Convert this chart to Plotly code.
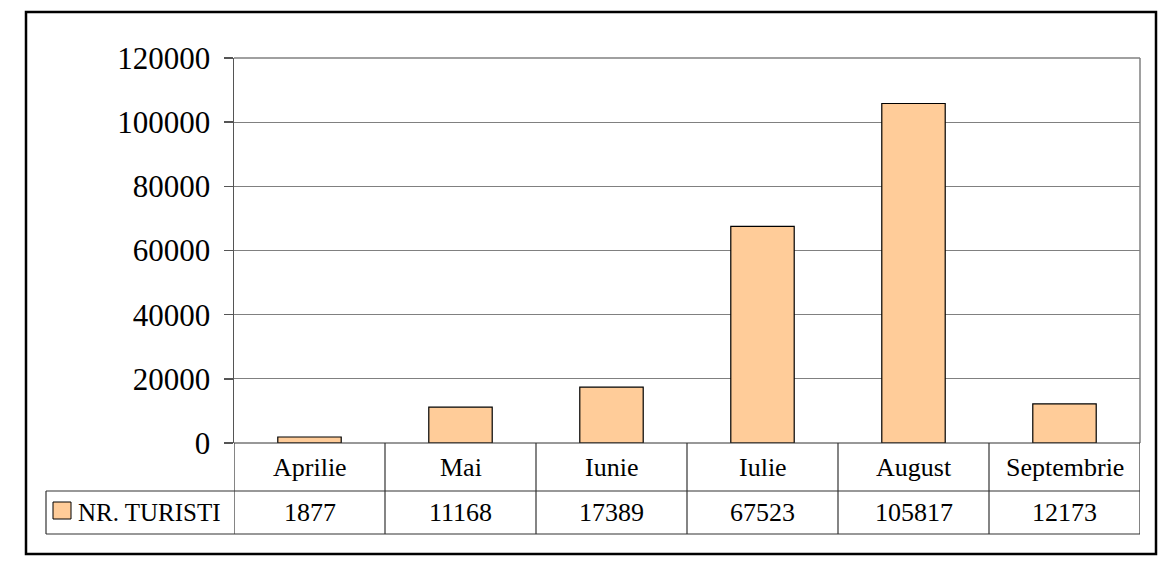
import plotly.graph_objects as go

categories = ["Aprilie", "Mai", "Iunie", "Iulie", "August", "Septembrie"]
tourists = [1877, 11168, 17389, 67523, 105817, 12173]
series_name = "NR. TURISTI"
y_ticks = [0, 20000, 40000, 60000, 80000, 100000, 120000]

W, H = 1160, 562
FONT = "Liberation Serif"
BAR = "#FFCC99"

def px(x):
    return x / W

def py(y):
    return 1 - y / H

x0, x1 = 234, 1140
y_top, y_bot = 58, 443
row1_bot, row2_bot = 491, 534
tab_left = 46

fig = go.Figure()
fig.add_trace(go.Bar(
    x=categories, y=tourists, name=series_name,
    marker=dict(color=BAR, line=dict(color="black", width=1.2)),
    width=0.42, showlegend=False, hoverinfo="skip",
))

fig.update_layout(
    width=W, height=H,
    margin=dict(l=0, r=0, t=0, b=0, autoexpand=False),
    paper_bgcolor="white", plot_bgcolor="white",
    font=dict(family=FONT, color="black"),
    xaxis=dict(domain=[px(x0), px(x1)], range=[-0.5, len(categories) - 0.5],
               showticklabels=False, showgrid=False, zeroline=False,
               showline=False, ticks="", automargin=False),
    yaxis=dict(domain=[py(y_bot), py(y_top)], range=[0, 120000],
               tickvals=y_ticks, ticktext=[str(v) for v in y_ticks],
               tickfont=dict(family=FONT, size=31, color="black"),
               showgrid=True, gridcolor="#808080", gridwidth=1,
               zeroline=False, showline=True, linecolor="#555555", linewidth=1.5,
               ticks="outside", ticklen=9, tickcolor="#555555", tickwidth=1.5,
               ticklabelstandoff=7, automargin=False),
)

shapes = []
# outer chart border
shapes.append(dict(type="rect", xref="paper", yref="paper",
                   x0=px(26), x1=px(1156), y0=py(554), y1=py(12),
                   line=dict(color="black", width=2.5)))
# plot area top/right border
shapes.append(dict(type="line", xref="paper", yref="paper",
                   x0=px(x0), x1=px(x1), y0=py(y_top), y1=py(y_top),
                   line=dict(color="#808080", width=1.5)))
shapes.append(dict(type="line", xref="paper", yref="paper",
                   x0=px(x1), x1=px(x1), y0=py(y_top), y1=py(y_bot),
                   line=dict(color="#808080", width=1.5)))
tline = dict(color="#333333", width=1.2)
# table horizontal lines
shapes.append(dict(type="line", xref="paper", yref="paper",
                   x0=px(x0), x1=px(x1), y0=py(y_bot), y1=py(y_bot), line=tline))
for yy in (row1_bot, row2_bot):
    shapes.append(dict(type="line", xref="paper", yref="paper",
                       x0=px(tab_left), x1=px(x1), y0=py(yy), y1=py(yy), line=tline))
shapes.append(dict(type="line", xref="paper", yref="paper",
                   x0=px(tab_left), x1=px(tab_left), y0=py(row1_bot), y1=py(row2_bot), line=tline))
# column dividers at category boundaries
for i in range(len(categories) + 1):
    shapes.append(dict(type="line", xref="x", yref="paper",
                       x0=i - 0.5, x1=i - 0.5, y0=py(y_bot), y1=py(row2_bot), line=tline))
# legend key
shapes.append(dict(type="rect", xref="paper", yref="paper",
                   x0=px(53), x1=px(71), y0=py(519), y1=py(502),
                   fillcolor=BAR, line=dict(color="black", width=1)))

annotations = []
for c, v in zip(categories, tourists):
    annotations.append(dict(x=c, xref="x", y=py((y_bot + row1_bot) / 2), yref="paper",
                            text=c, showarrow=False, font=dict(family=FONT, size=26),
                            xanchor="center", yanchor="middle"))
    annotations.append(dict(x=c, xref="x", y=py((row1_bot + row2_bot) / 2), yref="paper",
                            text=str(v), showarrow=False, font=dict(family=FONT, size=26),
                            xanchor="center", yanchor="middle"))
annotations.append(dict(x=px(76), xref="paper", y=py((row1_bot + row2_bot) / 2), yref="paper",
                        text=series_name, showarrow=False, font=dict(family=FONT, size=25),
                        xanchor="left", yanchor="middle"))

fig.update_layout(shapes=shapes, annotations=annotations)
fig.write_html("out.html",
               config={"displayModeBar": False, "staticPlot": True},
               post_script="document.body.style.margin='0';document.body.style.overflow='hidden';")
